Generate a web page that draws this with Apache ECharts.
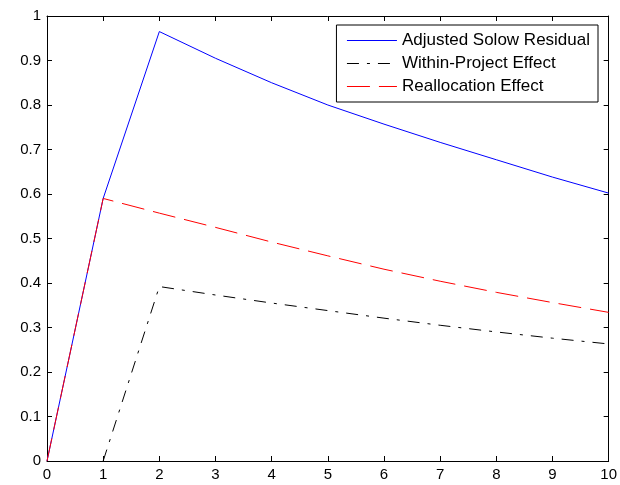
<!DOCTYPE html>
<html><head><meta charset="utf-8">
<script src="https://cdn.jsdelivr.net/npm/echarts@6/dist/echarts.min.js"></script>
<style>html,body{margin:0;padding:0;background:#fff}#c{width:620px;height:485px}</style>
</head><body><div id="c"></div>
<script>
const xSolow = [0,1,2,3,4,5,6,7,8,9,10];
const solow = [0,0.59,0.965,0.905,0.85,0.80,0.757,0.716,0.677,0.638,0.602];
const xWithin = [1,2,3,4,5,6,7,8,9,10];
const within = [0,0.392,0.373,0.355,0.338,0.321,0.305,0.290,0.276,0.263];
const xRealloc = [0,1,2,3,4,5,6,7,8,9,10];
const realloc = [0,0.59,0.557,0.525,0.492,0.461,0.431,0.404,0.379,0.356,0.334];
const names = ['Adjusted Solow Residual','Within-Project Effect','Reallocation Effect'];

const pair = (xs, ys) => xs.map((x,i)=>[x, ys[i]]);
const font = 'Liberation Sans, Arial, sans-serif';
const ax = {
  axisLine:{show:true,onZero:false,lineStyle:{color:'#000',width:1}},
  axisTick:{show:true,inside:true,length:5,lineStyle:{color:'#000'}},
  splitLine:{show:false}
};
const chart = echarts.init(document.getElementById('c'));
chart.setOption({
  animation:false,
  backgroundColor:'#fff',
  grid:{left:47,right:10,top:16,bottom:24,containLabel:false},
  legend:{
    orient:'vertical', right:22, top:25,
    backgroundColor:'#fff', borderColor:'#000', borderWidth:1,
    padding:[7,8,7,10], itemGap:6, itemWidth:50, itemHeight:18,
    itemStyle:{opacity:0},
    lineStyle:{width:1},
    textStyle:{fontFamily:font,fontSize:17,color:'#000'},
    data:names
  },
  xAxis:[
    Object.assign({type:'value',min:0,max:10,interval:1,position:'bottom',
      axisLabel:{color:'#000',fontFamily:font,fontSize:15,margin:6}},ax),
    Object.assign({type:'value',min:0,max:10,interval:1,position:'top',
      axisLabel:{show:false}},ax)
  ],
  yAxis:[
    Object.assign({type:'value',min:0,max:1,interval:0.1,position:'left',
      axisLabel:{color:'#000',fontFamily:font,fontSize:15,margin:6}},ax),
    Object.assign({type:'value',min:0,max:1,interval:0.1,position:'right',
      axisLabel:{show:false}},ax)
  ],
  series:[
    {name:names[0],type:'line',data:pair(xSolow,solow),symbol:'none',
      lineStyle:{color:'#0000ff',width:1},itemStyle:{color:'#0000ff'},z:3},
    {name:names[1],type:'line',data:pair(xWithin,within),symbol:'none',
      lineStyle:{color:'#000',width:1,type:[12,8,3,8]},itemStyle:{color:'#000'},z:2},
    {name:names[2],type:'line',data:pair(xRealloc,realloc),symbol:'none',
      lineStyle:{color:'#ff0000',width:1,type:[23,9]},itemStyle:{color:'#ff0000'},z:4}
  ]
});
</script></body></html>
